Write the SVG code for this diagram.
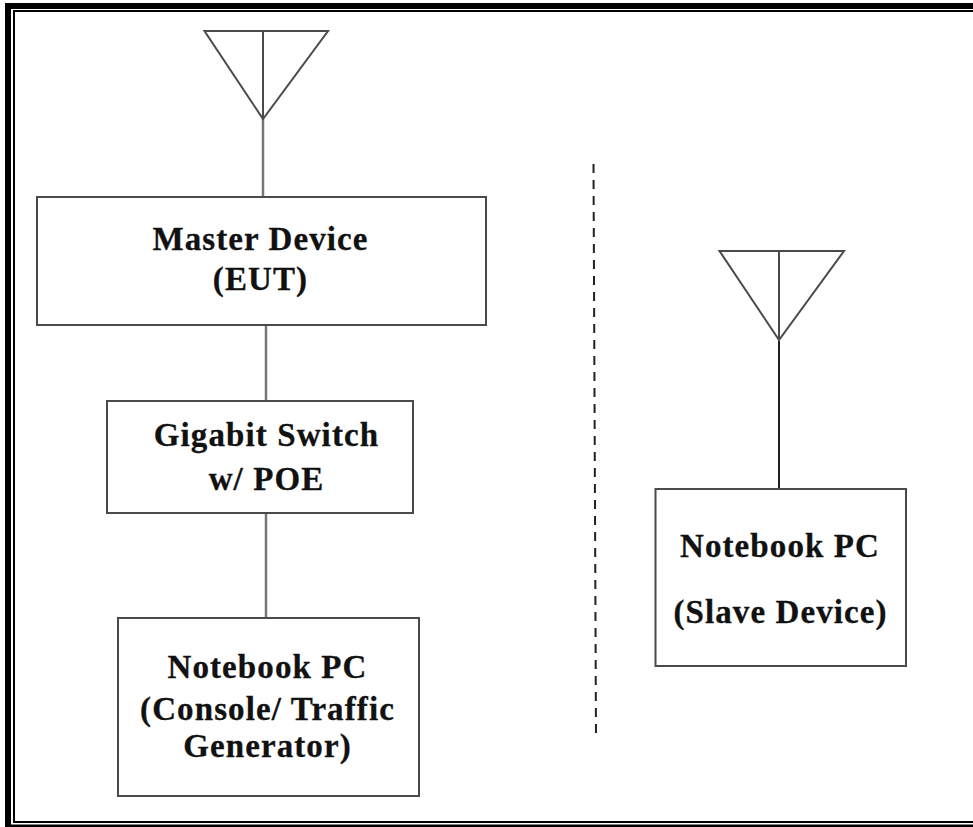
<svg xmlns="http://www.w3.org/2000/svg" width="973" height="827" viewBox="0 0 973 827">
<style>
.b{fill:#fff;stroke:#4a4a4a;stroke-width:2}
.c{stroke:#777;stroke-width:2.5;fill:none}
.t{font-family:"Liberation Serif","Times New Roman",serif;font-weight:bold;font-size:33px;letter-spacing:1.1px;fill:#111;stroke:#111;stroke-width:.3;text-anchor:middle}
.a{fill:#fff;stroke:#4a4a4a;stroke-width:2}
</style>
<rect width="973" height="827" fill="#fff"/>
<g id="frame" fill="none" stroke="#000">
<path d="M973 6H8V827" stroke-width="6"/>
<path d="M5 825.750H973" stroke-width="2.500"/>
<path d="M973 11H14V822H973" stroke-width="2"/>
</g>
<g id="connectors">
<path class="c" d="M263 119V197M266 325V401M266 514V618"/>
<path d="M779 341V489" stroke="#222" stroke-width="2" fill="none"/>
<path d="M593.5 164L596 736" stroke="#222" stroke-width="2" stroke-dasharray="9 7" fill="none"/>
</g>
<g id="antenna1"><path class="a" d="M204.500 31H328L263 119ZM263 31V119"/></g>
<g id="antenna2"><path class="a" d="M719.500 251H844L779 340ZM779 251V340"/></g>
<g id="master"><rect class="b" x="37" y="197" width="449" height="128"/>
<text class="t" x="260.500" y="250">Master Device</text><text class="t" x="260.500" y="290">(EUT)</text></g>
<g id="switch"><rect class="b" x="107" y="401" width="306" height="112"/>
<text class="t" x="266.500" y="446">Gigabit Switch</text><text class="t" x="266.500" y="490">w/ POE</text></g>
<g id="console"><rect class="b" x="118" y="618" width="301" height="178"/>
<text class="t" x="267.500" y="678">Notebook PC</text><text class="t" x="267.500" y="720">(Console/ Traffic</text><text class="t" x="267.500" y="757">Generator)</text></g>
<g id="slave"><rect class="b" x="655.500" y="489" width="250.500" height="177"/>
<text class="t" x="780" y="557">Notebook PC</text><text class="t" x="780.500" y="623">(Slave Device)</text></g>
</svg>
